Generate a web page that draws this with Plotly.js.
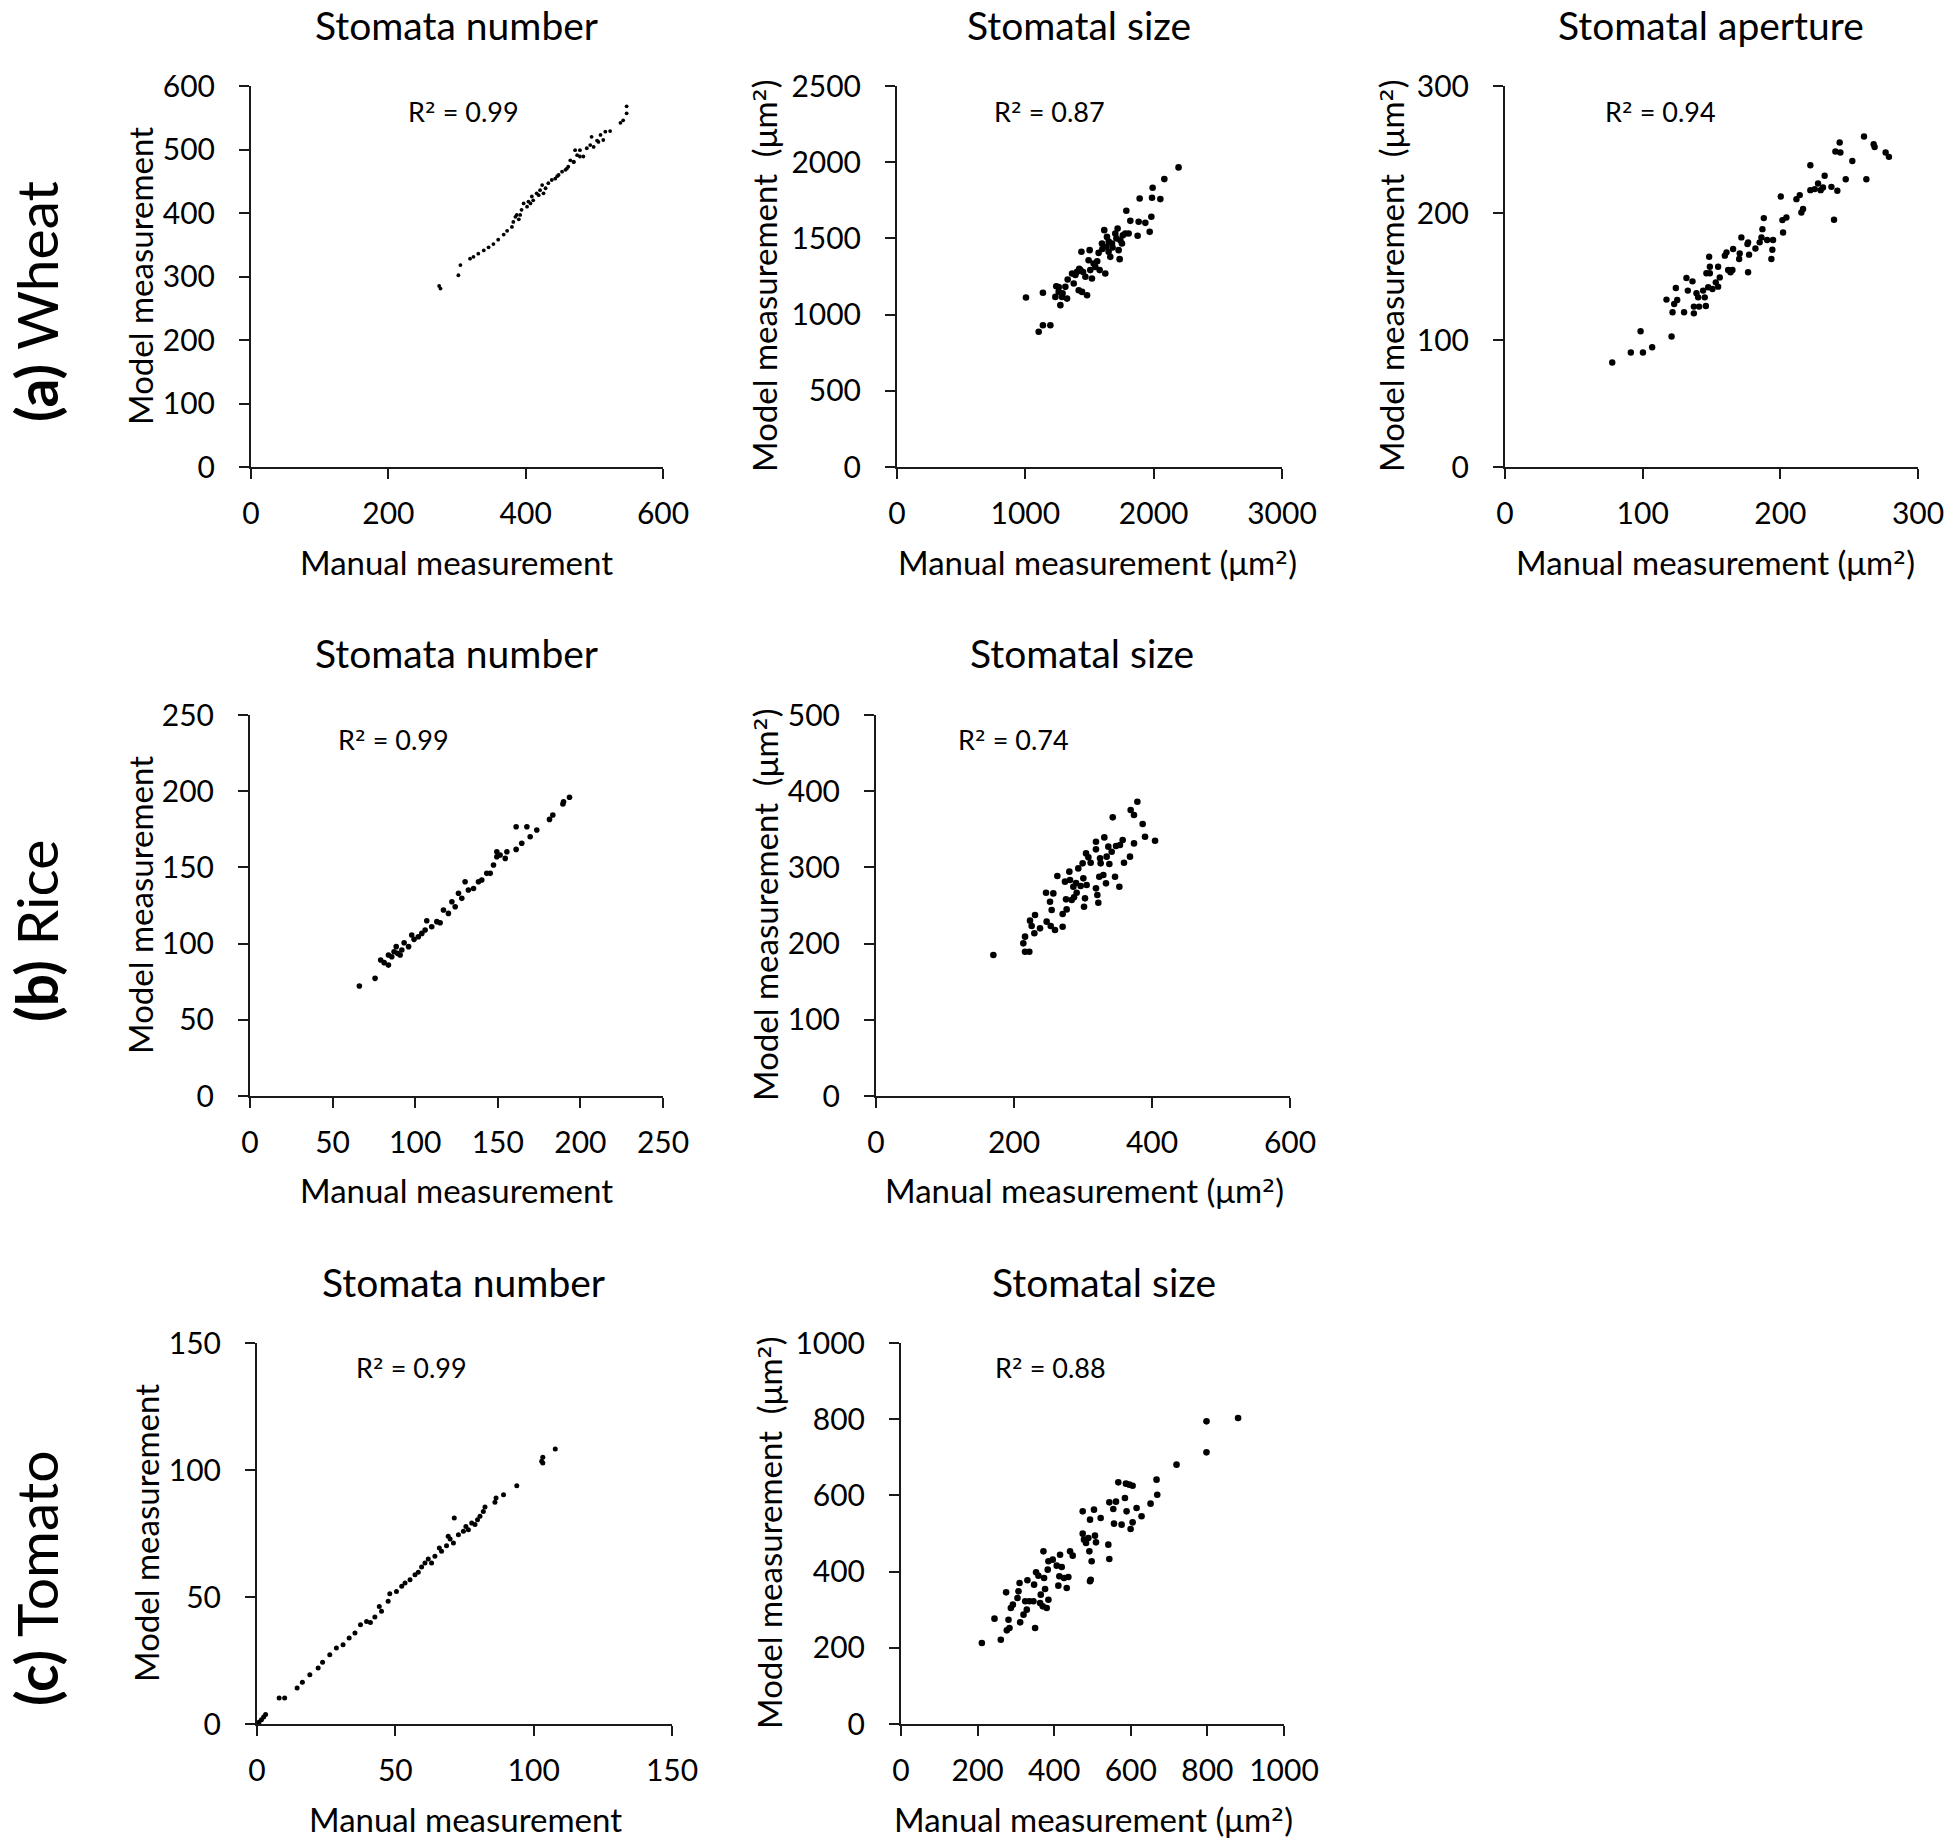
<!DOCTYPE html>
<html>
<head>
<meta charset="utf-8">
<script src="https://cdn.plot.ly/plotly-3.0.1.min.js"></script>
<style>
html,body{margin:0;padding:0;background:#ffffff;}
#chart{width:1954px;height:1846px;}
</style>
</head>
<body>
<div id="chart"></div>
<script>
// ---------------- DATA ----------------
// (a) Wheat - stomata number
const wheatNumManual = [274,276,302,305,319,324,331,339,346,353,360,368,373,380,382,385,387,390,392,394,397,402,404,407,409,411,416,419,421,424,426,429,433,438,443,446,448,453,458,460,462,465,470,470,472,475,479,479,484,489,494,496,499,504,506,509,513,516,523,538,542,547,547];
const wheatNumModel  = [285,281,302,318,328,331,336,341,346,351,358,366,372,378,386,394,397,390,397,405,415,410,418,415,426,420,431,428,436,444,431,439,447,452,454,458,460,465,468,470,473,483,481,480,499,491,489,499,489,502,507,520,504,514,512,523,515,528,529,542,546,557,568];
// (a) Wheat - stomatal size (um2)
const wheatSizeManual = [1005,1137,1104,1137,1195,1241,1234,1260,1273,1286,1312,1325,1364,1377,1403,1416,1429,1437,1442,1468,1481,1493,1501,1506,1519,1532,1545,1571,1579,1597,1615,1623,1631,1636,1649,1662,1675,1701,1719,1727,1735,1740,1753,1779,1787,1805,1818,1875,1883,1891,1935,1969,1982,1987,1992,2052,2083,2194,1260,1290,1330,1390,1420,1450,1560,1600,1650,1680,1710,1760];
const wheatSizeModel  = [1112,1143,887,930,930,1186,1116,1149,1062,1116,1182,1105,1270,1204,1281,1160,1292,1412,1149,1248,1127,1357,1423,1292,1237,1335,1313,1405,1292,1467,1554,1270,1445,1510,1412,1379,1467,1532,1565,1423,1364,1488,1467,1532,1681,1532,1615,1517,1609,1762,1602,1543,1642,1767,1832,1758,1889,1966,1180,1140,1230,1260,1300,1280,1350,1430,1480,1440,1500,1520];
// (a) Wheat - stomatal aperture (um2)
const wheatApManual = [77.9,91.4,98.5,100.2,106.9,121.0,117.3,121.7,122.9,124.1,125.1,130.1,131.8,132.8,136.2,137.2,137.2,139.1,140.3,141.0,143.9,145.1,145.9,146.3,147.6,148.3,148.8,148.8,150.7,153.1,154.8,154.8,156.0,159.7,160.9,162.1,163.8,165.2,165.7,170.1,170.5,171.7,176.1,176.6,176.6,177.3,181.9,185.0,186.3,187.0,188.0,190.4,193.5,194.2,194.7,200.3,201.5,202.0,204.4,211.7,214.1,215.3,216.5,221.8,221.8,225.0,227.4,229.3,231.0,232.2,237.1,239.0,240.0,241.4,243.1,243.6,247.5,252.3,260.8,262.5,267.8,268.5,276.5,278.9];
const wheatApModel  = [82.3,90.1,106.9,90.1,94.3,102.7,131.8,121.8,128.4,141.0,131.5,121.8,148.8,138.9,146.2,126.3,121.0,136.8,133.6,126.3,138.9,133.6,126.8,152.5,141.5,165.6,157.7,152.5,140.2,145.4,142.0,157.7,149.3,166.4,169.0,155.1,153.3,155.1,171.6,163.8,168.2,180.8,175.5,176.9,153.3,167.2,172.1,176.9,180.8,187.3,196.0,178.7,163.8,171.1,178.7,213.0,194.4,184.7,196.5,210.9,214.1,200.4,203.1,237.6,218.0,218.8,223.2,218.0,220.1,229.3,220.6,194.7,248.4,217.5,255.5,247.6,226.6,241.0,260.2,226.6,254.1,252.0,247.6,244.2];
// (b) Rice - stomata number
const riceNumManual = [66.2,75.7,79.1,81.2,83.8,83.8,85.8,87.2,88.5,89.3,90.9,91.9,93.3,96.0,97.9,99.3,101.9,104.0,106.0,107.0,110.0,113.1,115.1,117.1,120.1,122.2,124.2,126.2,128.2,130.2,132.2,135.3,138.3,140.3,143.3,145.4,147.4,149.4,149.4,151.4,154.5,155.5,161.1,161.1,164.5,167.6,169.6,173.6,181.3,183.3,189.4,189.8,193.4];
const riceNumModel  = [72.2,77.2,89.2,87.5,85.9,92.5,91.4,94.7,98.0,93.6,92.5,95.8,100.6,98.0,105.6,102.8,104.5,106.7,108.9,115.0,111.1,114.4,113.7,122.0,119.8,127.5,124.2,133.0,129.7,140.6,135.2,136.2,140.6,141.7,146.1,146.1,151.6,157.0,160.3,158.1,155.9,160.3,161.8,176.7,165.8,176.7,170.1,174.5,181.5,184.4,191.6,193.1,196.0];
// (b) Rice - stomatal size (um2)
const riceSizeManual = [170.1,213.5,216.0,216.0,222.2,223.2,225.6,229.5,230.5,237.7,246.4,247.3,252.2,253.2,254.6,257.0,259.4,262.8,270.5,270.5,273.9,275.4,276.3,280.2,281.2,283.6,286.0,287.0,289.9,290.8,293.2,296.6,299.5,300.5,301.5,302.9,304.4,305.3,307.8,311.1,318.8,318.8,318.8,320.8,322.2,323.6,324.7,325.6,329.5,330.9,333.3,334.3,336.7,338.2,341.6,343.1,346.4,347.9,352.7,353.6,357.5,359.4,369.1,368.1,373.9,373.9,378.8,386.5,389.9,404.4];
const riceSizeModel  = [185.0,200.3,209.1,189.4,189.4,230.1,223.1,213.5,237.5,220.0,266.8,228.8,255.0,223.1,244.1,265.9,217.8,288.7,222.2,238.8,281.3,258.1,244.9,294.4,283.4,257.2,274.7,260.7,279.6,266.8,298.7,275.6,305.3,285.6,248.4,259.4,318.4,276.9,313.2,306.2,333.7,323.7,272.5,263.8,253.7,287.8,311.9,305.3,290.0,339.4,279.1,314.1,327.2,304.4,320.6,365.7,287.8,328.1,274.7,329.4,335.9,306.2,375.3,314.1,368.7,331.5,386.2,356.9,340.3,335.0];
// (c) Tomato - stomata number
const tomNumManual = [0.7,1.6,2.4,3.1,8.0,10.0,14.5,16.4,19.1,22.1,23.7,26.3,28.7,31.1,33.3,35.4,37.4,39.6,41.0,42.6,44.2,45.0,47.4,48.0,50.4,52.3,53.5,55.3,57.1,58.3,59.5,60.7,61.9,63.1,64.3,65.9,66.7,68.5,69.1,69.8,71.0,71.3,72.8,74.6,75.5,76.4,77.6,78.8,79.7,80.6,81.8,82.4,86.0,86.4,89.1,93.9,102.9,103.3,103.3,107.8];
const tomNumModel  = [0.7,1.7,2.8,3.7,10.2,10.2,14.2,16.4,19.4,22.0,24.3,27.3,29.9,31.2,33.9,35.8,39.1,40.4,40.0,42.1,46.3,44.4,48.3,51.3,52.2,54.2,55.5,56.8,58.8,59.7,61.8,63.4,65.0,63.4,66.0,69.3,68.0,70.2,73.9,72.8,71.3,81.1,74.5,75.9,77.8,76.5,79.1,78.5,80.4,81.8,83.7,85.4,87.3,89.0,90.3,93.8,103.4,105.0,102.8,108.3];
// (c) Tomato - stomatal size (um2)
const tomSizeManual = [211.1,244.1,260.6,274.5,276.3,280.7,283.3,286.8,292.0,304.1,306.7,309.5,311.2,319.9,324.3,328.4,330.1,335.3,345.8,347.5,350.1,352.7,358.8,363.2,364.9,370.1,371.9,373.6,376.2,380.5,383.1,384.9,384.9,396.2,406.6,410.9,413.5,415.3,419.6,425.7,432.7,437.0,441.4,448.3,474.4,474.4,477.8,483.1,489.2,491.8,493.5,493.5,495.3,497.8,503.9,506.5,509.1,521.3,541.3,543.9,543.9,554.3,556.1,561.3,567.4,576.0,584.7,587.3,589.0,596.0,599.5,604.7,604.7,615.1,628.1,651.6,667.2,669.0,719.4,797.6,797.6,880.1];
const tomSizeModel  = [212.6,276.5,221.3,345.6,245.8,273.8,252.0,304.5,313.2,330.7,348.2,370.1,266.8,287.0,322.0,300.1,377.1,322.0,322.0,365.7,252.0,398.1,389.3,317.6,339.5,308.8,453.2,383.2,354.3,304.5,405.1,326.3,427.0,431.3,415.6,363.1,387.6,444.4,412.1,383.2,357.0,385.8,453.2,441.8,558.2,499.6,483.8,475.1,488.2,453.2,536.3,374.5,378.8,427.0,562.6,494.3,476.8,540.7,470.7,433.1,581.8,564.3,525.8,583.6,634.3,523.2,593.2,630.8,558.2,628.2,511.8,625.5,529.3,566.9,545.1,578.3,641.3,601.9,680.7,794.4,713.0,803.2];

// Tick values
const ticksWheatNumX = [0,200,400,600];
const ticksWheatNumY = [0,100,200,300,400,500,600];
const ticksWheatSizeX = [0,1000,2000,3000];
const ticksWheatSizeY = [0,500,1000,1500,2000,2500];
const ticksWheatApX = [0,100,200,300];
const ticksWheatApY = [0,100,200,300];
const ticksRiceNumX = [0,50,100,150,200,250];
const ticksRiceNumY = [0,50,100,150,200,250];
const ticksRiceSizeX = [0,200,400,600];
const ticksRiceSizeY = [0,100,200,300,400,500];
const ticksTomNumX = [0,50,100,150];
const ticksTomNumY = [0,50,100,150];
const ticksTomSizeX = [0,200,400,600,800,1000];
const ticksTomSizeY = [0,200,400,600,800,1000];

// Labels (superscript two drawn with DejaVu Sans, whose ² glyph is full-sized)
const SQ = '<span style="font-family:DejaVu Sans">²</span>';
const rowLabels = ['<b>(a)</b> Wheat','<b>(b)</b> Rice','<b>(c)</b> Tomato'];
const panelTitles = ['Stomata number','Stomatal size','Stomatal aperture','Stomata number','Stomatal size','Stomata number','Stomatal size'];
const r2Values = ['0.99','0.87','0.94','0.99','0.74','0.99','0.88'];
const xTitles = ['Manual measurement','Manual measurement (μm' + SQ + ')','Manual measurement (μm' + SQ + ')','Manual measurement','Manual measurement (μm' + SQ + ')','Manual measurement','Manual measurement (μm' + SQ + ')'];
const yTitles = ['Model measurement','Model measurement  (μm' + SQ + ')','Model measurement  (μm' + SQ + ')','Model measurement','Model measurement  (μm' + SQ + ')','Model measurement','Model measurement  (μm' + SQ + ')'];

// ---------------- LAYOUT ----------------
const W = 1954, H = 1846;
const FONT = 'Lato, "Open Sans", sans-serif';
const INK = '#1a1a1a';

// pixel boxes of the plot areas [left, right, top, bottom]
const boxes = [
  [251, 663, 86, 467],
  [897, 1282, 86, 467],
  [1505, 1918, 86, 467],
  [250, 663, 715, 1096],
  [876, 1290, 715, 1096],
  [257, 672, 1343, 1724],
  [901, 1284, 1343, 1724]
];
const panels = [
  {x: wheatNumManual, y: wheatNumModel, xr: 600, yr: 600, xt: ticksWheatNumX, yt: ticksWheatNumY, ms: 3.8},
  {x: wheatSizeManual, y: wheatSizeModel, xr: 3000, yr: 2500, xt: ticksWheatSizeX, yt: ticksWheatSizeY, ms: 6.6},
  {x: wheatApManual, y: wheatApModel, xr: 300, yr: 300, xt: ticksWheatApX, yt: ticksWheatApY, ms: 6.4},
  {x: riceNumManual, y: riceNumModel, xr: 250, yr: 250, xt: ticksRiceNumX, yt: ticksRiceNumY, ms: 5.6},
  {x: riceSizeManual, y: riceSizeModel, xr: 600, yr: 500, xt: ticksRiceSizeX, yt: ticksRiceSizeY, ms: 6.6},
  {x: tomNumManual, y: tomNumModel, xr: 150, yr: 150, xt: ticksTomNumX, yt: ticksTomNumY, ms: 5},
  {x: tomSizeManual, y: tomSizeModel, xr: 1000, yr: 1000, xt: ticksTomSizeX, yt: ticksTomSizeY, ms: 6.6}
];
// annotation anchor points (px)
const titlePos = [[456,25],[1079,25],[1711,25],[456,653],[1082,653],[463,1282],[1104,1282]];
const r2Pos = [[463,111],[1049,111],[1660,111],[393,739],[1013,739],[411,1367],[1050,1367]];
const xTitlePos = [[456,562],[1097,562],[1715,562],[456,1190],[1084,1190],[465,1819],[1093,1819]];
const yTitlePos = [[140,276],[765,276],[1392,276],[140,905],[765,905],[146,1533],[769,1533]];
const rowPos = [[0,302],[0,931],[0,1579]];

const px = v => v / W;
const py = v => 1 - v / H;

const traces = [];
const layout = {
  width: W, height: H,
  margin: {l: 0, r: 0, t: 0, b: 0},
  paper_bgcolor: '#ffffff',
  plot_bgcolor: '#ffffff',
  showlegend: false,
  font: {family: FONT, color: '#000000'},
  annotations: []
};

panels.forEach((p, i) => {
  const n = i === 0 ? '' : String(i + 1);
  const b = boxes[i];
  traces.push({
    type: 'scatter', mode: 'markers',
    x: p.x, y: p.y,
    xaxis: 'x' + n, yaxis: 'y' + n,
    cliponaxis: false,
    marker: {color: '#000000', size: p.ms, line: {width: 0}},
    hoverinfo: 'x+y'
  });
  const common = {
    showgrid: false, zeroline: false, showline: true,
    linecolor: INK, linewidth: 2,
    ticks: 'outside', ticklen: 10, tickwidth: 2, tickcolor: INK,
    tickfont: {family: FONT, size: 30, color: '#000000'},
    fixedrange: true
  };
  layout['xaxis' + n] = Object.assign({}, common, {
    domain: [px(b[0]), px(b[1])],
    anchor: 'y' + n,
    range: [0, p.xr],
    tickmode: 'array', tickvals: p.xt,
    ticklabelstandoff: 9
  });
  layout['yaxis' + n] = Object.assign({}, common, {
    domain: [py(b[3]), py(b[2])],
    anchor: 'x' + n,
    range: [0, p.yr],
    tickmode: 'array', tickvals: p.yt,
    ticklabelstandoff: 18
  });
  layout.annotations.push({
    xref: 'paper', yref: 'paper', x: px(titlePos[i][0]), y: py(titlePos[i][1]),
    xanchor: 'center', yanchor: 'middle', showarrow: false,
    text: panelTitles[i], font: {family: FONT, size: 39, color: '#000000'}
  });
  layout.annotations.push({
    xref: 'paper', yref: 'paper', x: px(r2Pos[i][0]), y: py(r2Pos[i][1]),
    xanchor: 'center', yanchor: 'middle', showarrow: false,
    text: 'R' + SQ + ' = ' + r2Values[i], font: {family: FONT, size: 27, color: '#000000'}
  });
  layout.annotations.push({
    xref: 'paper', yref: 'paper', x: px(xTitlePos[i][0]), y: py(xTitlePos[i][1]),
    xanchor: 'center', yanchor: 'middle', showarrow: false,
    text: xTitles[i], font: {family: FONT, size: 33, color: '#000000'}
  });
  layout.annotations.push({
    xref: 'paper', yref: 'paper', x: px(yTitlePos[i][0]), y: py(yTitlePos[i][1]),
    xanchor: 'center', yanchor: 'middle', showarrow: false, textangle: -90,
    text: yTitles[i], font: {family: FONT, size: 33, color: '#000000'}
  });
});

rowLabels.forEach((t, k) => {
  layout.annotations.push({
    xref: 'paper', yref: 'paper', x: px(rowPos[k][0]), y: py(rowPos[k][1]),
    xanchor: 'left', yanchor: 'middle', showarrow: false, textangle: -90,
    text: t, font: {family: FONT, size: 57, color: '#000000'}
  });
});

Plotly.newPlot('chart', traces, layout, {staticPlot: true, displayModeBar: false});
</script>
</body>
</html>
